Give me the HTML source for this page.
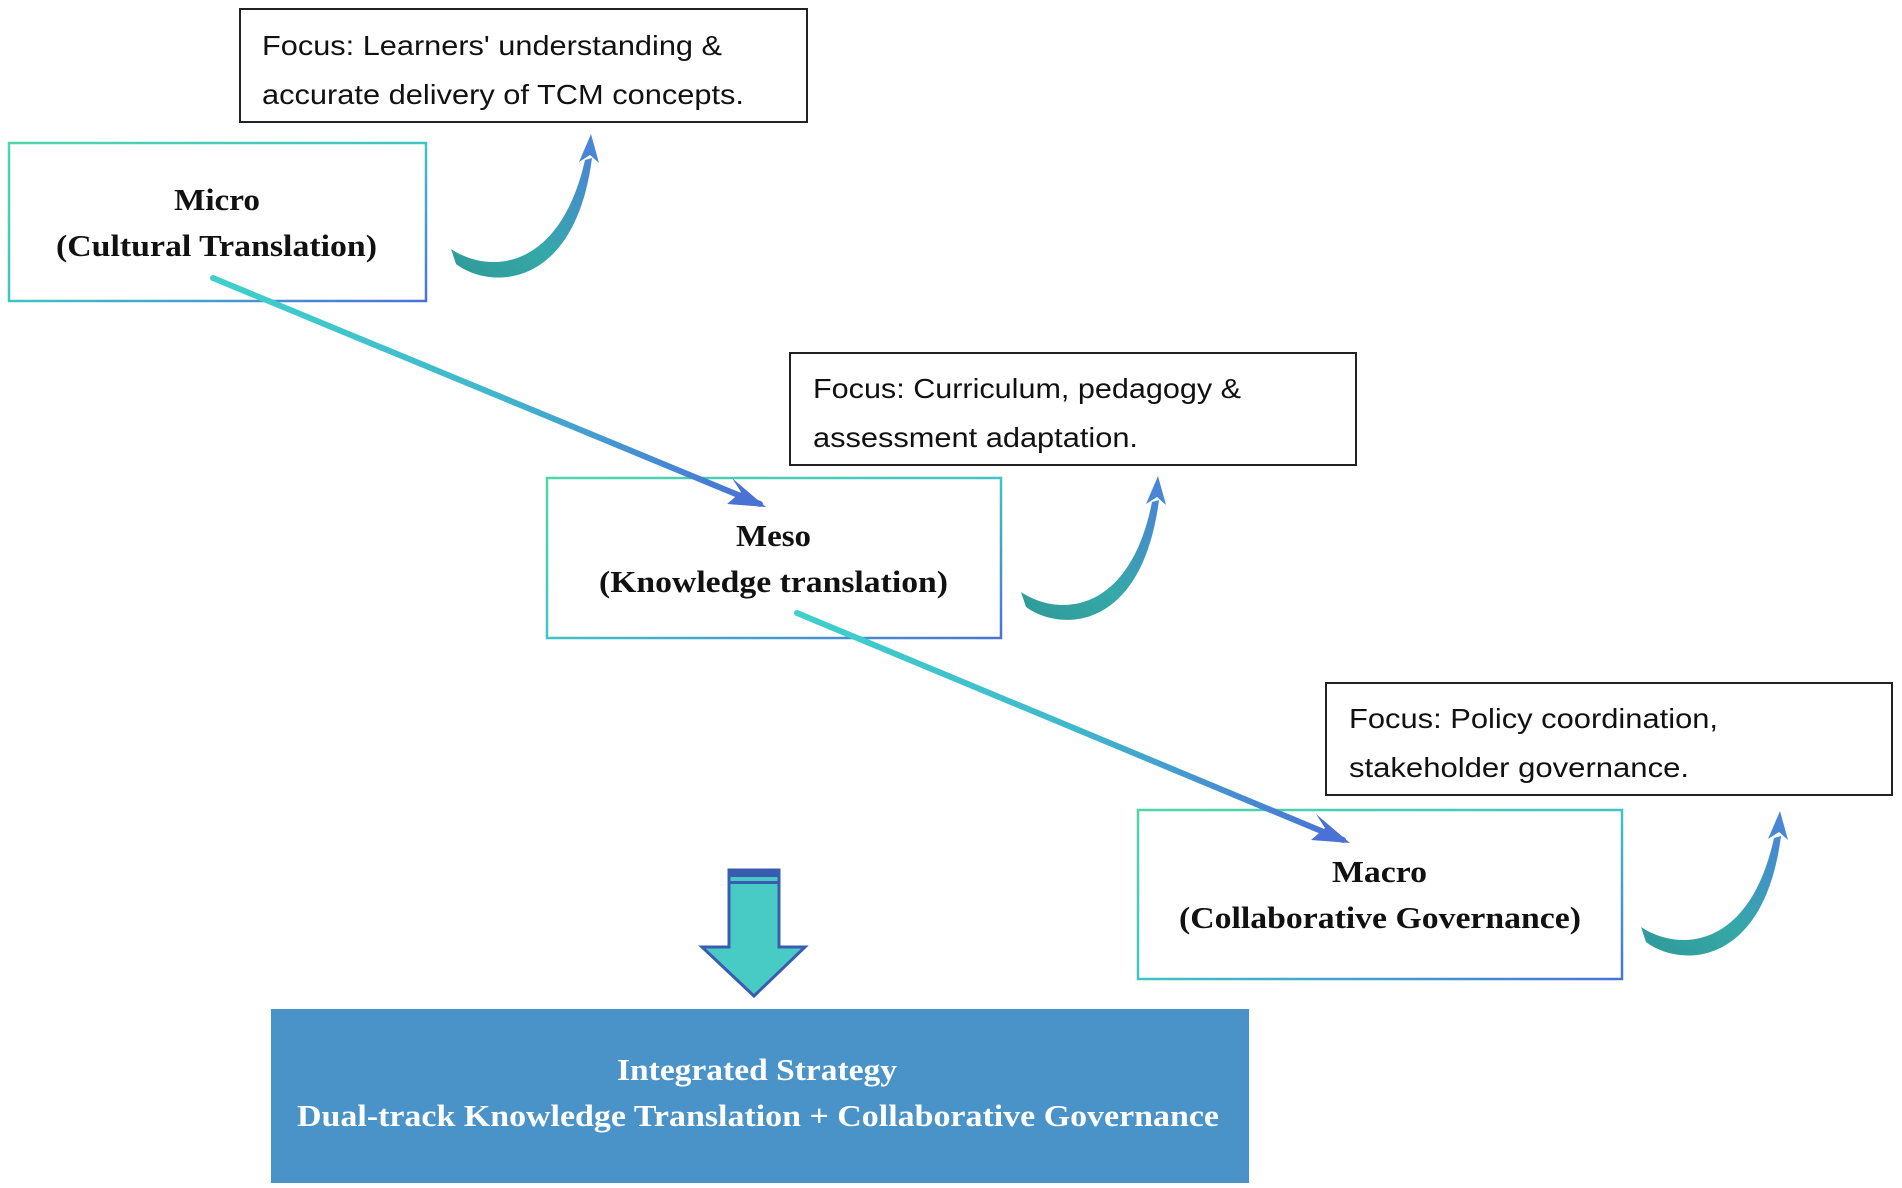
<!DOCTYPE html>
<html><head><meta charset="utf-8"><style>
body{margin:0;background:#fff;}
svg{display:block}
.f{font-family:"Liberation Sans",sans-serif;font-size:28px;fill:#111}
.s{font-family:"Liberation Serif",serif;font-weight:bold;font-size:31px;fill:#111}
.w{font-family:"Liberation Serif",serif;font-weight:bold;font-size:31px;fill:#fff}
</style></head><body>
<svg width="1902" height="1188" viewBox="0 0 1902 1188" xmlns="http://www.w3.org/2000/svg">
<defs>
<linearGradient id="bd" x1="0" y1="0" x2="1" y2="1"><stop offset="0" stop-color="#4fd6a8"/><stop offset="0.5" stop-color="#40c4c4"/><stop offset="1" stop-color="#4a72d6"/></linearGradient>
<linearGradient id="dg" x1="0" y1="0" x2="1" y2="0"><stop offset="0" stop-color="#3fd0cc"/><stop offset="0.5" stop-color="#40b8cc"/><stop offset="1" stop-color="#4a70d4"/></linearGradient>
<linearGradient id="cg" x1="0" y1="1" x2="1" y2="0"><stop offset="0" stop-color="#2f9a98"/><stop offset="0.45" stop-color="#35a8a8"/><stop offset="1" stop-color="#4a86d6"/></linearGradient>
</defs>
<rect x="240" y="9" width="567" height="113" fill="#fff" stroke="#222" stroke-width="2"/>
<text class="f" x="262" y="55" textLength="460" lengthAdjust="spacingAndGlyphs">Focus: Learners' understanding &amp;</text>
<text class="f" x="262" y="104" textLength="482" lengthAdjust="spacingAndGlyphs">accurate delivery of TCM concepts.</text>
<rect x="790" y="353" width="566" height="112" fill="#fff" stroke="#222" stroke-width="2"/>
<text class="f" x="813" y="398" textLength="428" lengthAdjust="spacingAndGlyphs">Focus: Curriculum, pedagogy &amp;</text>
<text class="f" x="813" y="447" textLength="325" lengthAdjust="spacingAndGlyphs">assessment adaptation.</text>
<rect x="1326" y="683" width="566" height="112" fill="#fff" stroke="#222" stroke-width="2"/>
<text class="f" x="1349" y="728" textLength="369" lengthAdjust="spacingAndGlyphs">Focus: Policy coordination,</text>
<text class="f" x="1349" y="777" textLength="340" lengthAdjust="spacingAndGlyphs">stakeholder governance.</text>
<rect x="9" y="143" width="417" height="158" fill="#fff" stroke="url(#bd)" stroke-width="2.5"/>
<text class="s" x="174" y="210" textLength="86" lengthAdjust="spacingAndGlyphs">Micro</text>
<text class="s" x="56" y="256" textLength="321" lengthAdjust="spacingAndGlyphs">(Cultural Translation)</text>
<rect x="547" y="478" width="454" height="160" fill="#fff" stroke="url(#bd)" stroke-width="2.5"/>
<text class="s" x="736" y="546" textLength="75" lengthAdjust="spacingAndGlyphs">Meso</text>
<text class="s" x="599" y="592" textLength="349" lengthAdjust="spacingAndGlyphs">(Knowledge translation)</text>
<rect x="1138" y="810" width="484" height="169" fill="#fff" stroke="url(#bd)" stroke-width="2.5"/>
<text class="s" x="1332" y="882" textLength="95" lengthAdjust="spacingAndGlyphs">Macro</text>
<text class="s" x="1179" y="928" textLength="402" lengthAdjust="spacingAndGlyphs">(Collaborative Governance)</text>
<g stroke="url(#dg)" stroke-width="6" fill="none" stroke-linecap="round">
<line x1="213" y1="278" x2="760" y2="504"/>
<line x1="797" y1="613" x2="1343" y2="840"/>
</g>
<g fill="#4a72d4">
<polygon points="766,507 732,478 741,492 727,504"/>
<polygon points="1350,843 1316,814 1325,828 1311,840"/>
</g>
<g fill="url(#cg)">
<path d="M451,249 C490,275 560,270 585,160 L592,158 C575,290 490,290 456,264 Z"/>
<path d="M1021,592 C1060,618 1130,613 1152,502 L1159,500 C1142,632 1060,632 1026,607 Z"/>
<path d="M1641,927 C1680,953 1750,948 1774,838 L1781,836 C1764,968 1680,968 1646,942 Z"/>
</g>
<g fill="#4a86d6">
<polygon points="591,134 579,162 590,155 599,163"/>
<polygon points="1158,476 1146,504 1157,497 1166,505"/>
<polygon points="1780,811 1768,839 1779,832 1788,840"/>
</g>
<polygon points="729,870 779,870 779,947 805,947 754,996 702,947 729,947" fill="#48cbc4" stroke="#3a5cb0" stroke-width="3"/>
<rect x="729" y="870" width="50" height="7" fill="#3a5cb0"/>
<rect x="729" y="881" width="50" height="3" fill="#3a5cb0"/>
<rect x="271" y="1009" width="978" height="174" fill="#4a93c8"/>
<text class="w" x="617" y="1080" textLength="280" lengthAdjust="spacingAndGlyphs">Integrated Strategy</text>
<text class="w" x="297" y="1126" textLength="922" lengthAdjust="spacingAndGlyphs">Dual-track Knowledge Translation + Collaborative Governance</text>
</svg>
</body></html>
